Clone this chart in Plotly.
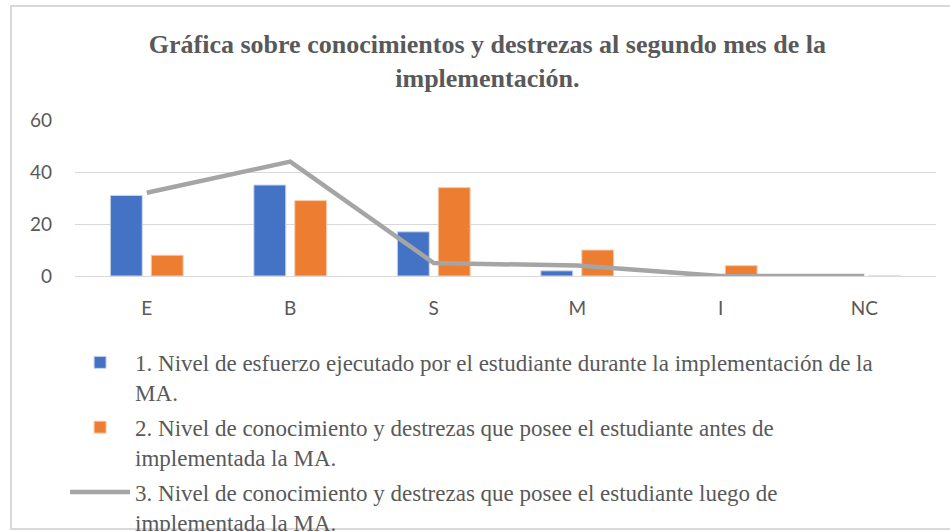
import plotly.graph_objects as go

# Colores estilo Office
BLUE = "#4472C4"
ORANGE = "#ED7D31"
GRAY = "#A5A5A5"
TEXT = "#595959"
GRID = "#D9D9D9"

categorias = ["E", "B", "S", "M", "I", "NC"]
esfuerzo = [31, 35, 17, 2, 0, 0]
antes = [8, 29, 34, 10, 4, 0]
luego = [32, 44, 5, 4, 0, 0]

nombres = [
    "1. Nivel de esfuerzo ejecutado por el estudiante durante la implementación de la<br>MA.",
    "2. Nivel de conocimiento y destrezas que posee el estudiante antes de<br>implementada la MA.",
    "3. Nivel de conocimiento y destrezas que posee el estudiante luego de<br>implementada la MA.",
]

fig = go.Figure()
fig.add_trace(go.Bar(
    x=categorias, y=esfuerzo, name=nombres[0], legendgroup="g1",
    marker=dict(color=BLUE, line=dict(color="#C9D6EE", width=1)),
))
fig.add_trace(go.Bar(
    x=categorias, y=antes, name=nombres[1], legendgroup="g2",
    marker=dict(color=ORANGE, line=dict(color="#F8CDB0", width=1)),
))
fig.add_trace(go.Scatter(
    x=categorias, y=luego, name=nombres[2], legendgroup="g3",
    mode="lines", line=dict(color=GRAY, width=4.5),
))

fig.update_layout(
    width=950, height=531,
    margin=dict(l=75, r=14, t=0, b=0, autoexpand=False),
    paper_bgcolor="white", plot_bgcolor="white",
    barmode="group", bargap=0.43, bargroupgap=0.22,
    title=dict(
        text="Gráfica sobre conocimientos y destrezas al segundo mes de la<br>implementación.",
        x=0.513, xref="container", xanchor="center",
        y=0.90, yref="container", yanchor="top",
        font=dict(family="Liberation Serif", size=26, color=TEXT, weight="bold"),
    ),
    font=dict(family="Lato", color=TEXT, size=19),
    xaxis=dict(showgrid=False, zeroline=False, showline=False,
               ticklabelstandoff=19, tickfont=dict(size=19, color=TEXT)),
    yaxis=dict(range=[0, 60], dtick=20, domain=[0.4802, 0.774],
               showgrid=True, gridcolor=GRID, gridwidth=1.3,
               zeroline=True, zerolinecolor=GRID, zerolinewidth=1.3,
               showline=False, ticklabelstandoff=22,
               tickfont=dict(size=19, color=TEXT)),
    legend=dict(
        x=0.0685, xref="container", xanchor="left",
        y=0.358, yref="container", yanchor="top",
        traceorder="grouped", tracegroupgap=2, valign="top",
        itemwidth=60,
        font=dict(family="Liberation Serif", size=23, color=TEXT),
        bgcolor="rgba(0,0,0,0)",
    ),
    shapes=[dict(type="rect", xref="paper", yref="paper",
                 x0=-64 / 861, x1=1.1, y0=2 / 531, y1=525 / 531,
                 line=dict(color=GRID, width=2), layer="below")],
)

# sin margen del body para que la figura ocupe la ventana exacta
fig.write_html("out.html", config={"displayModeBar": False},
               post_script="document.body.style.margin='0';")
